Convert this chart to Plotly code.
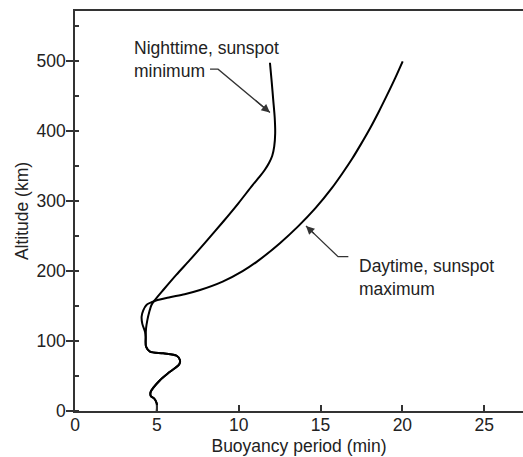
import plotly.graph_objects as go

# Nighttime, sunspot minimum
night_alt = [0, 11, 18, 21, 27, 44, 56, 67, 73, 79, 82.5, 85, 92, 106, 118, 130, 142, 152, 159, 173,
             195, 216, 243, 271, 297, 323, 335, 345, 355, 365, 378, 397, 420, 445, 470, 498]
night_period = [5.00, 4.99, 4.83, 4.64, 4.62, 5.19, 5.80, 6.37, 6.41, 6.21, 5.39, 4.58, 4.34, 4.32, 4.34,
                4.42, 4.54, 4.68, 4.89, 5.39, 6.20, 7.02, 8.03, 9.06, 9.98, 10.85, 11.28, 11.60, 11.86,
                12.05, 12.17, 12.23, 12.20, 12.11, 12.02, 11.91]

# Daytime, sunspot maximum
day_alt = [0, 11, 18, 21, 27, 44, 56, 67, 73, 79, 82.5, 85, 92, 106, 113, 125, 135, 144, 152, 155.5, 158,
           162.6, 167, 173, 185, 200, 214, 240, 264, 290, 319, 340, 361, 382, 404, 428, 452, 476, 500]
day_period = [5.00, 4.99, 4.83, 4.64, 4.62, 5.19, 5.80, 6.37, 6.41, 6.21, 5.39, 4.58, 4.34, 4.32, 4.28,
              4.11, 4.07, 4.17, 4.38, 4.68, 4.95, 5.80, 6.70, 7.64, 9.02, 10.24, 11.14, 12.52, 13.63,
              14.69, 15.70, 16.34, 16.94, 17.48, 18.02, 18.56, 19.07, 19.56, 20.02]

x_ticks = [0, 5, 10, 15, 20, 25]
y_ticks = [0, 100, 200, 300, 400, 500]

FONT = "Liberation Sans, Arial, Helvetica, sans-serif"
FS = 17.5
INK = "#222222"
AX = "#333333"

fig = go.Figure()
fig.add_trace(go.Scatter(x=night_period, y=night_alt, mode="lines",
                         line=dict(color="black", width=2, shape="spline", smoothing=0.8),
                         showlegend=False, hoverinfo="skip"))
fig.add_trace(go.Scatter(x=day_period, y=day_alt, mode="lines",
                         line=dict(color="black", width=2, shape="spline", smoothing=0.8),
                         showlegend=False, hoverinfo="skip"))

# labels
fig.add_annotation(x=3.46, y=502, xref="x", yref="y", text="Nighttime, sunspot<br>minimum",
                   showarrow=False, xanchor="left", yanchor="middle", align="left",
                   font=dict(family=FONT, size=FS, color=INK))
fig.add_annotation(x=17.21, y=191, xref="x", yref="y", text="Daytime, sunspot<br>maximum",
                   showarrow=False, xanchor="left", yanchor="middle", align="left",
                   font=dict(family=FONT, size=FS, color=INK))

# leader lines (elbow) + arrowheads
fig.add_shape(type="path", path="M 8.25 488.8 L 8.74 488.8 L 11.91 426.8", xref="x", yref="y",
              line=dict(color=AX, width=1.3))
fig.add_annotation(x=11.91, y=426.8, ax=10.96, ay=445.4, xref="x", yref="y", axref="x", ayref="y",
                   text="", showarrow=True, arrowhead=2, arrowsize=1.3, arrowwidth=1.3, arrowcolor=AX)
fig.add_shape(type="path", path="M 16.7 220.7 L 16.07 220.7 L 14.11 264.7", xref="x", yref="y",
              line=dict(color=AX, width=1.3))
fig.add_annotation(x=14.11, y=264.7, ax=14.70, ay=251.5, xref="x", yref="y", axref="x", ayref="y",
                   text="", showarrow=True, arrowhead=2, arrowsize=1.3, arrowwidth=1.3, arrowcolor=AX)

fig.update_layout(
    width=523, height=457,
    margin=dict(l=75, r=0, t=11, b=46),
    paper_bgcolor="white", plot_bgcolor="white",
    font=dict(family=FONT, size=FS, color=INK),
    xaxis=dict(range=[0, 27.37], tickvals=x_ticks, ticks="inside", ticklen=6, tickwidth=1.5,
               tickcolor=AX, showline=True, linecolor=AX, linewidth=1.5, mirror=True,
               showgrid=False, zeroline=False, ticklabelstandoff=-3,
               tickfont=dict(family=FONT, size=FS, color=INK),
               title=dict(text="Buoyancy period (min)", standoff=6, font=dict(size=FS))),
    yaxis=dict(range=[0, 572], tickvals=y_ticks, ticks="outside", ticklen=7, tickwidth=1.5,
               tickcolor=AX, showline=True, linecolor=AX, linewidth=1.5, mirror=False,
               showgrid=False, zeroline=False, ticklabelstandoff=-3,
               tickfont=dict(family=FONT, size=FS, color=INK),
               minor=dict(dtick=50, tick0=0, ticks="inside", ticklen=4, tickwidth=1.5, tickcolor=AX),
               title=dict(text="Altitude (km)", standoff=3, font=dict(size=FS))),
)

fig.write_html("out.html")
